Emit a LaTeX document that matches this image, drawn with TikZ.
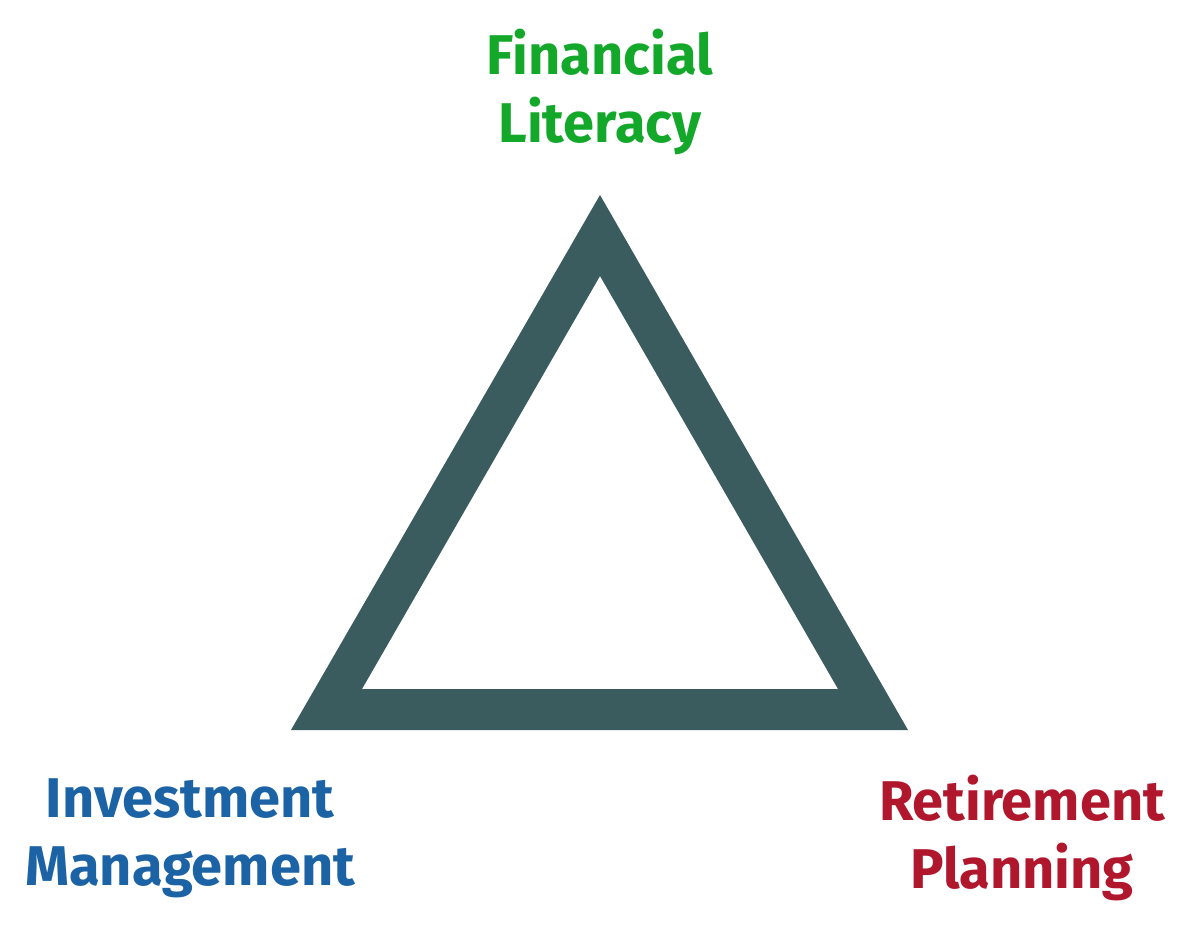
\documentclass[tikz,border=0pt]{standalone}
\usepackage{fontspec}
\setmainfont{Fira Sans}
\definecolor{tri}{HTML}{3B5C5E}
\definecolor{gr}{HTML}{14A82B}
\definecolor{bl}{HTML}{1C63A5}
\definecolor{rd}{HTML}{B0172D}
\begin{document}
\begin{tikzpicture}[x=1pt,y=-1pt,lab/.style={font=\fontsize{56}{68}\selectfont\bfseries,align=center,inner sep=0pt}]
\useasboundingbox (0,0) rectangle (1200,935);
\fill[tri,even odd rule] (600,195) -- (908,730) -- (291,730) -- cycle (600,276) -- (362,689) -- (838,689) -- cycle;
\node[lab,text=gr] (fl) at (600,92) {Financial\\Literacy};
\node[lab,text=bl] (im) at (190,838) {Investment\\Management};
\node[lab,text=rd] (rp) at (1022,838) {Retirement\\Planning};
\end{tikzpicture}
\end{document}
